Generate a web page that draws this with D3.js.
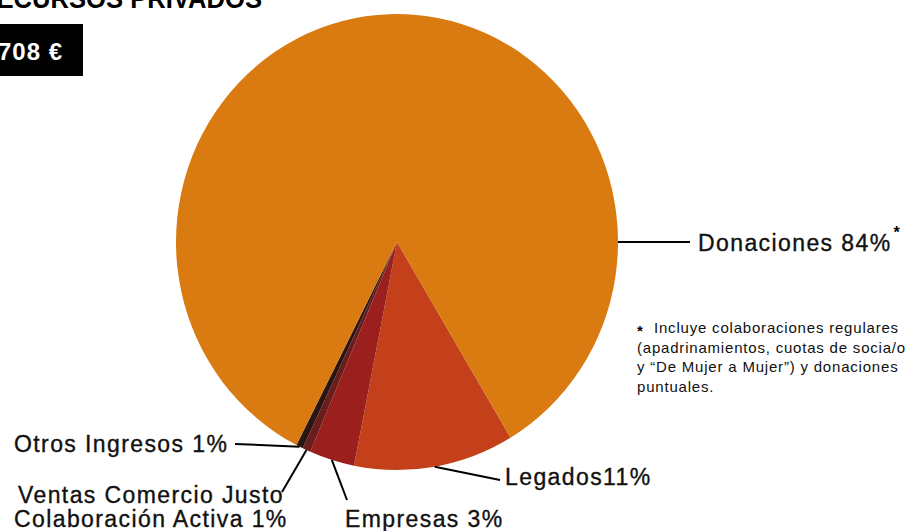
<!DOCTYPE html>
<html>
<head>
<meta charset="utf-8">
<script src="https://cdn.jsdelivr.net/npm/d3@7"></script>
<style>
  body { margin: 0; background: #fff; }
  svg { display: block; }
  .lbl { font-family: "Liberation Sans", Arial, sans-serif; font-size: 23px; letter-spacing: 1.4px; fill: #111; stroke: #111; stroke-width: 0.35px; }
  .note { font-family: "Liberation Sans", Arial, sans-serif; font-size: 15px; letter-spacing: 0.8px; fill: #111; }
</style>
</head>
<body>
<script>
// slices, clockwise starting at the Legados edge
const categories = ["Legados", "Empresas", "Ventas Comercio Justo / Colaboración Activa", "Otros Ingresos", "Donaciones"];
const values = [11.7, 3.3, 0.6, 0.5, 83.9];
const colors = ["#c4401b", "#9b1f1c", "#6a1d1b", "#2b1512", "#d97b10"];
const noteLines = [
  "Incluye colaboraciones regulares",
  "(apadrinamientos, cuotas de socia/o",
  "y \u201cDe Mujer a Mujer\u201d) y donaciones",
  "puntuales."
];

const w = 913, h = 531;
const cx = 397, cy = 242, r = 221, sy = 228 / 221;
const startDeg = 149.1;

const svg = d3.select("body").append("svg").attr("width", w).attr("height", h);

// title, cut off by the top of the page
svg.append("text")
  .attr("x", -22).attr("y", 8)
  .attr("textLength", 284)
  .attr("lengthAdjust", "spacingAndGlyphs")
  .style("font-family", "'Liberation Sans', Arial, sans-serif")
  .style("font-weight", "bold")
  .style("font-size", "28px")
  .text("RECURSOS PRIVADOS");

// total box
svg.append("rect").attr("x", 0).attr("y", 24).attr("width", 83).attr("height", 52).attr("fill", "#000");
svg.append("text")
  .attr("x", 63).attr("y", 60)
  .attr("text-anchor", "end")
  .style("font-family", "'Liberation Sans', Arial, sans-serif")
  .style("font-weight", "bold")
  .style("font-size", "24px")
  .style("letter-spacing", "1px")
  .attr("fill", "#fff")
  .text("708 €");

const pie = d3.pie().sort(null)
  .startAngle(startDeg * Math.PI / 180)
  .endAngle((startDeg + 360) * Math.PI / 180);
const arcs = pie(values);
const arc = d3.arc().innerRadius(0).outerRadius(r);

const g = svg.append("g").attr("transform", "translate(" + cx + "," + cy + ") scale(1," + sy + ")");
g.selectAll("path")
  .data(arcs)
  .enter()
  .append("path")
  .attr("d", arc)
  .attr("fill", (d, i) => colors[i]);

// point on the rim for a given angle
function rim(a) {
  return [cx + r * Math.sin(a), cy - r * Math.cos(a) * sy];
}
const mid = d => (d.startAngle + d.endAngle) / 2;

// leaders: [slice index, end x, end y]
const leaders = [
  [0, 500, 480],
  [1, 347, 500],
  [2, 282, 492],
  [3, 235, 444]
];
leaders.forEach(function(l) {
  const p = rim(mid(arcs[l[0]]));
  svg.append("line")
    .attr("x1", p[0]).attr("y1", p[1])
    .attr("x2", l[1]).attr("y2", l[2])
    .attr("stroke", "#000").attr("stroke-width", 2);
});
const pd = rim(Math.PI / 2);
svg.append("line")
  .attr("x1", pd[0]).attr("y1", pd[1]).attr("x2", 690).attr("y2", pd[1])
  .attr("stroke", "#000").attr("stroke-width", 2);

// labels
const don = svg.append("text").attr("class", "lbl").attr("x", 698).attr("y", 251).text("Donaciones 84%");
const donEnd = 698 + don.node().getComputedTextLength();
svg.append("text").attr("x", donEnd + 2).attr("y", 238)
  .style("font-family", "'Liberation Sans', Arial, sans-serif").style("font-weight", "bold").style("font-size", "16px")
  .text("*");
svg.append("text").attr("class", "lbl").attr("x", 505).attr("y", 485).text("Legados11%");
svg.append("text").attr("class", "lbl").attr("x", 345).attr("y", 527).text("Empresas 3%");
svg.append("text").attr("class", "lbl").attr("x", 14).attr("y", 452).text("Otros Ingresos 1%");
svg.append("text").attr("class", "lbl").attr("x", 18).attr("y", 503).text("Ventas Comercio Justo");
svg.append("text").attr("class", "lbl").attr("x", 14).attr("y", 527).text("Colaboración Activa 1%");

// footnote
svg.append("text").attr("x", 637).attr("y", 336)
  .style("font-family", "'Liberation Sans', Arial, sans-serif").style("font-weight", "bold").style("font-size", "15px")
  .text("*");
svg.selectAll("text.note")
  .data(noteLines)
  .enter()
  .append("text")
  .attr("class", "note")
  .attr("x", (d, i) => i === 0 ? 654 : 637)
  .attr("y", (d, i) => 333 + i * 19.6)
  .text(d => d);
</script>
</body>
</html>
